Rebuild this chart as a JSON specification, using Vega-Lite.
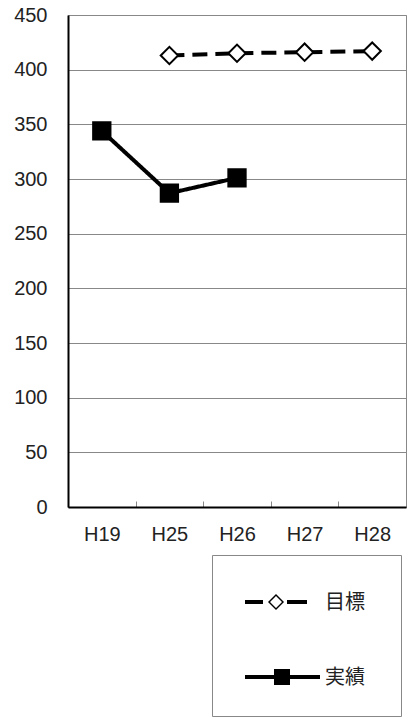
{
  "$schema": "https://vega.github.io/schema/vega-lite/v6.json",
  "autosize": "none",
  "width": 338,
  "height": 492,
  "padding": {"left": 68, "top": 15, "right": 1, "bottom": 210},
  "background": "white",
  "config": {
    "view": {"stroke": "#888", "strokeWidth": 1},
    "axis": {"labelFont": "Liberation Sans", "labelFontSize": 20, "labelColor": "#222", "title": null}
  },
  "data": {"values": [
    {"year": "H19", "series": "実績", "value": 344},
    {"year": "H25", "series": "実績", "value": 287},
    {"year": "H26", "series": "実績", "value": 301},
    {"year": "H25", "series": "目標", "value": 413},
    {"year": "H26", "series": "目標", "value": 415},
    {"year": "H27", "series": "目標", "value": 416},
    {"year": "H28", "series": "目標", "value": 417}
  ]},
  "encoding": {
    "x": {"field": "year", "type": "nominal", "sort": ["H19", "H25", "H26", "H27", "H28"],
      "scale": {"domain": ["H19", "H25", "H26", "H27", "H28"], "paddingInner": 0, "paddingOuter": 0},
      "axis": {"labelAngle": 0, "domainColor": "#000", "domainWidth": 2, "ticks": true, "tickBand": "extent", "tickSize": -6, "tickColor": "#888", "labelPadding": 23, "grid": false}},
    "y": {"field": "value", "type": "quantitative",
      "scale": {"domain": [0, 450], "nice": false},
      "axis": {"values": [0, 50, 100, 150, 200, 250, 300, 350, 400, 450], "ticks": false, "labelPadding": 21, "domainColor": "#000", "domainWidth": 2, "grid": true, "gridColor": "#888", "gridWidth": 1}}
  },
  "layer": [
    {
      "mark": {"type": "line", "color": "#000", "strokeWidth": 4},
      "encoding": {
        "strokeDash": {"field": "series", "type": "nominal",
          "scale": {"domain": ["目標", "実績"], "range": [[15, 8], [1, 0]]},
          "legend": {
            "title": null,
            "orient": "none",
            "legendX": 144,
            "legendY": 540,
            "padding": 28,
            "strokeColor": "#888",
            "fillColor": "white",
            "symbolSize": 4,
            "symbolType": {"expr": "datum.value === '目標' ? 'M123,9Z M-5,7H13V11H-5Z M26,1L34,9L26,17L18,9Z M26,3L20,9L26,15L32,9Z M37,7H57V11H37Z' : 'M123,9Z M-5,7H70V11H-5Z M24,1H40V17H24Z'"},
            "symbolFillColor": "#000",
            "symbolStrokeColor": "transparent",
            "symbolStrokeWidth": 0,
            "symbolDash": [1, 0],
            "symbolOpacity": 1,
            "labelOffset": 65,
            "labelBaseline": "top",
            "labelFont": "Noto Sans CJK JP",
            "labelFontSize": 20,
            "labelColor": "#222",
            "rowPadding": 45
          }}
      }
    },
    {
      "transform": [{"filter": "datum.series === '目標'"}],
      "mark": {"type": "point", "shape": "diamond", "filled": true, "fill": "#fff", "size": 300, "stroke": "#000", "strokeWidth": 2, "opacity": 1}
    },
    {
      "transform": [{"filter": "datum.series === '実績'"}],
      "mark": {"type": "point", "shape": "square", "filled": true, "fill": "#000", "size": 300, "stroke": "#000", "strokeWidth": 2, "opacity": 1}
    }
  ]
}
